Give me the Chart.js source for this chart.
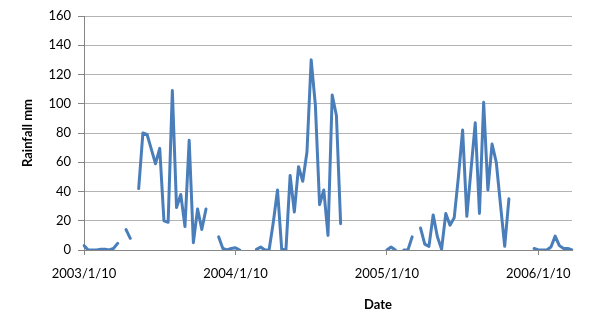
<!DOCTYPE html>
<html>
<head>
<meta charset="utf-8">
<script src="https://cdn.jsdelivr.net/npm/chart.js@4"></script>
<style>
  html, body { margin: 0; padding: 0; background: #fff; }
  #wrap { width: 600px; height: 331px; }
</style>
</head>
<body>
<div id="wrap"><canvas id="rainChart" width="600" height="331"></canvas></div>
<script>
// Dekadal rainfall (mm), one array per year, null = no record
const rain2003 = [3, 0, 0, 0, 0.5, 0.5, 0, 1, 4.5, null, 14, 8, null, 42, 80, 79, 69, 59,
                  69.5, 20, 19, 109, 29, 38, 16, 75, 5, 28, 14, 28, null, null, 9, 1, 0, 1];
const rain2004 = [1.5, 0, null, null, null, 0.5, 2, 0, 0, 19, 41, 0.5, 0, 51, 26, 57, 47, 67,
                  130, 99, 31, 41, 10, 106, 92, 18, null, null, null, null, null, null, null, null, null, null];
const rain2005 = [0, 2, 0, null, 0, 0, 9, null, 15, 4, 2.5, 24, 9, 0.5, 25, 17, 22, 50,
                  82, 23, 55, 87, 25, 101, 41, 72.5, 60, 31, 2.5, 35, null, null, null, null, null, 1];
const rain2006 = [0, 0, 0, 2, 9.5, 3, 1, 1, 0];

const years = [2003, 2004, 2005, 2006];
const dekadDays = [10, 20, 30];
const yearTicks = ['2003/1/10', '2004/1/10', '2005/1/10', '2006/1/10'];
const yTicks = [0, 20, 40, 60, 80, 100, 120, 140, 160];

const rainfall = [].concat(rain2003, rain2004, rain2005, rain2006);

// category labels: year/month/day, three dekads per month
const categories = [];
for (let i = 0; i < rainfall.length; i++) {
    const y = years[0] + Math.floor(i / 36);
    const m = Math.floor((i % 36) / 3) + 1;
    categories.push(y + '/' + m + '/' + dekadDays[i % 3]);
}

const FONT = "Lato, 'Open Sans', sans-serif";

// x axis title sits right of centre in the original
const dateTitle = {
    id: 'dateTitle',
    afterDraw(chart) {
        const ctx = chart.ctx;
        ctx.save();
        ctx.font = 'bold 13px ' + FONT;
        ctx.fillStyle = '#000';
        ctx.textAlign = 'center';
        ctx.textBaseline = 'middle';
        ctx.fillText('Date', 378, 305);
        ctx.restore();
    }
};

const ctx = document.getElementById('rainChart').getContext('2d');
new Chart(ctx, {
    type: 'line',
    data: {
        labels: categories,
        datasets: [{
            label: 'Rainfall',
            data: rainfall,
            borderColor: '#4a7ebb',
            borderWidth: 3,
            pointRadius: 0,
            tension: 0,
            spanGaps: false,
            borderCapStyle: 'round',
            borderJoinStyle: 'round'
        }]
    },
    options: {
        responsive: false,
        animation: false,
        layout: { padding: { left: 0, right: 28, top: 16, bottom: 0 } },
        plugins: {
            legend: { display: false },
            tooltip: { enabled: false }
        },
        scales: {
            x: {
                type: 'category',
                offset: false,
                afterFit: s => { s.height = 81; },
                border: { display: true, color: '#868686', width: 1 },
                grid: {
                    drawOnChartArea: false,
                    drawTicks: true,
                    tickLength: 5,
                    color: '#868686'
                },
                ticks: {
                    autoSkip: false,
                    maxRotation: 0,
                    padding: 11,
                    color: '#000',
                    font: { family: FONT, size: 13 },
                    callback: function (val) {
                        const lab = this.getLabelForValue(val);
                        return yearTicks.includes(lab) ? lab : null;
                    }
                }
            },
            y: {
                min: 0,
                max: 160,
                afterFit: s => { s.width = 84; },
                border: { display: true, color: '#868686', width: 1 },
                grid: {
                    color: '#b3b3b3',
                    tickColor: '#868686',
                    tickLength: 6
                },
                afterBuildTicks: s => { s.ticks = yTicks.map(v => ({ value: v })); },
                ticks: {
                    padding: 7,
                    color: '#000',
                    font: { family: FONT, size: 13 }
                },
                title: {
                    display: true,
                    text: 'Rainfall mm',
                    color: '#000',
                    font: { family: FONT, size: 13, weight: 'bold' },
                    padding: { top: 20, bottom: 0 }
                }
            }
        }
    },
    plugins: [dateTitle]
});
</script>
</body>
</html>
